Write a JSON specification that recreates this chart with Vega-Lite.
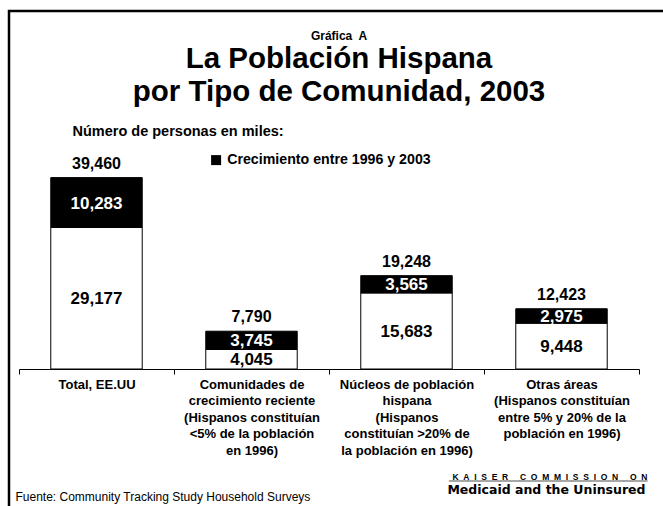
{
  "$schema": "https://vega.github.io/schema/vega-lite/v6.json",
  "width": 654,
  "height": 495,
  "autosize": {"type": "none"},
  "padding": {"left": 9, "top": 11, "right": 0, "bottom": 0},
  "background": "white",
  "config": {
    "font": "Liberation Sans",
    "view": {"stroke": "black", "strokeWidth": 2.5, "strokeDash": [654, 1149, 495, 10]}
  },
  "title": {
    "text": "Gráfica\u00a0 A",
    "subtitle": ["La Población Hispana", "por Tipo de Comunidad, 2003"],
    "anchor": "middle",
    "frame": "group",
    "dx": 3,
    "offset": -96,
    "font": "Liberation Sans",
    "fontSize": 12,
    "fontWeight": "bold",
    "color": "black",
    "subtitleFont": "Liberation Sans",
    "subtitleFontSize": 29.5,
    "subtitleFontWeight": "bold",
    "subtitleColor": "black",
    "subtitleLineHeight": 33,
    "subtitlePadding": 2
  },
  "data": {
    "values": [
      {"cat": "Total, EE.UU", "seg": "Población en 1996", "value": 29177},
      {"cat": "Total, EE.UU", "seg": "Crecimiento entre 1996 y 2003", "value": 10283},
      {"cat": "Comunidades de\ncrecimiento reciente\n(Hispanos constituían\n<5% de la población\nen 1996)", "seg": "Población en 1996", "value": 4045},
      {"cat": "Comunidades de\ncrecimiento reciente\n(Hispanos constituían\n<5% de la población\nen 1996)", "seg": "Crecimiento entre 1996 y 2003", "value": 3745},
      {"cat": "Núcleos de población\nhispana\n(Hispanos\nconstituían >20% de\nla población en 1996)", "seg": "Población en 1996", "value": 15683},
      {"cat": "Núcleos de población\nhispana\n(Hispanos\nconstituían >20% de\nla población en 1996)", "seg": "Crecimiento entre 1996 y 2003", "value": 3565},
      {"cat": "Otras áreas\n(Hispanos constituían\nentre 5% y 20% de la\npoblación en 1996)", "seg": "Población en 1996", "value": 9448},
      {"cat": "Otras áreas\n(Hispanos constituían\nentre 5% y 20% de la\npoblación en 1996)", "seg": "Crecimiento entre 1996 y 2003", "value": 2975}
    ]
  },
  "transform": [
    {"stack": "value", "groupby": ["cat"], "sort": [{"field": "seg", "order": "descending"}], "as": ["v0", "v1"]}
  ],
  "layer": [
    {
      "mark": {"type": "bar", "stroke": "black", "strokeWidth": 1, "width": {"band": 0.59}},
      "encoding": {
        "x": {
          "field": "cat", "type": "nominal", "sort": null,
          "scale": {"range": [10, 630], "paddingInner": 0, "paddingOuter": 0},
          "axis": {
            "orient": "bottom", "offset": -137,
            "labelExpr": "split(datum.label, '\\n')",
            "labelFont": "Liberation Sans", "labelFontSize": 13, "labelFontWeight": "bold", "labelColor": "black",
            "labelLineHeight": 16.6, "labelAngle": 0, "labelPadding": 4, "labelBound": false, "labelOverlap": false, "labelLimit": 0,
            "tickBand": "extent", "tickSize": 5, "tickColor": "black", "tickWidth": 1,
            "domainColor": "black", "domainWidth": 1, "grid": false,
            "title": "Fuente: Community Tracking Study Household Surveys",
            "titleFont": "Liberation Sans", "titleFontSize": 12, "titleFontWeight": "normal", "titleColor": "black",
            "titleAnchor": "start", "titleAlign": "left", "titleBaseline": "alphabetic", "titleX": 6, "titleY": 131
          }
        },
        "y": {
          "field": "v1", "type": "quantitative",
          "scale": {"domain": [0, 40000], "range": [358, 164], "nice": false},
          "axis": {
            "orient": "left", "domain": false, "ticks": false, "labels": false, "grid": false,
            "title": "Número de personas en miles:",
            "titleFont": "Liberation Sans", "titleFontSize": 14.5, "titleFontWeight": "bold", "titleColor": "black",
            "titleAngle": 0, "titleAlign": "left", "titleBaseline": "alphabetic", "titleX": 63, "titleY": 124
          }
        },
        "y2": {"field": "v0"},
        "color": {
          "field": "seg", "type": "nominal",
          "scale": {"domain": ["Población en 1996", "Crecimiento entre 1996 y 2003"], "range": ["white", "black"]},
          "legend": {
            "values": ["Crecimiento entre 1996 y 2003"], "orient": "none", "legendX": 200, "legendY": 142,
            "title": null, "padding": 0, "symbolType": "square", "symbolSize": 100, "symbolStrokeWidth": 0,
            "labelFont": "Liberation Sans", "labelFontSize": 14.2, "labelFontWeight": "bold", "labelColor": "black",
            "labelOffset": 4, "labelLimit": 0
          }
        }
      }
    },
    {
      "transform": [
        {"filter": "datum.seg === 'Crecimiento entre 1996 y 2003'"},
        {"fold": ["v0", "v1"], "as": ["k", "pos"]}
      ],
      "mark": {"type": "text", "color": "white", "fontSize": 17, "fontWeight": "bold", "baseline": "middle", "dy": 1},
      "encoding": {
        "x": {"field": "cat", "type": "nominal", "sort": null, "axis": null},
        "y": {"aggregate": "mean", "field": "pos", "type": "quantitative", "axis": null},
        "text": {"field": "value", "type": "quantitative", "format": ","}
      }
    },
    {
      "transform": [
        {"filter": "datum.seg === 'Población en 1996'"},
        {"fold": ["v0", "v1"], "as": ["k", "pos"]}
      ],
      "mark": {"type": "text", "color": "black", "fontSize": 17, "fontWeight": "bold", "baseline": "middle", "dy": 1},
      "encoding": {
        "x": {"field": "cat", "type": "nominal", "sort": null, "axis": null},
        "y": {"aggregate": "mean", "field": "pos", "type": "quantitative", "axis": null},
        "text": {"field": "value", "type": "quantitative", "format": ","}
      }
    },
    {
      "mark": {"type": "text", "color": "black", "fontSize": 16, "fontWeight": "bold", "baseline": "alphabetic", "dy": -9},
      "encoding": {
        "x": {
          "field": "cat", "type": "nominal", "sort": null,
          "axis": {
            "orient": "top", "domain": false, "ticks": false, "labels": false, "grid": false,
            "title": "Medicaid and the Uninsured",
            "titleFont": "DejaVu Sans", "titleFontSize": 12.5, "titleFontWeight": "bold", "titleColor": "black",
            "titleAlign": "right", "titleBaseline": "alphabetic", "titleX": 636, "titleY": 482
          }
        },
        "y": {
          "aggregate": "sum", "field": "value", "type": "quantitative",
          "axis": {
            "orient": "right", "domain": false, "ticks": false, "labels": false, "grid": false,
            "title": ["K\u00a0\u00a0A\u00a0\u00a0I\u00a0\u00a0S\u00a0\u00a0E\u00a0\u00a0R\u00a0\u00a0\u00a0\u00a0\u00a0C\u00a0\u00a0O\u00a0\u00a0M\u00a0\u00a0M\u00a0\u00a0I\u00a0\u00a0S\u00a0\u00a0S\u00a0\u00a0I\u00a0\u00a0O\u00a0\u00a0N\u00a0\u00a0\u00a0\u00a0\u00a0O\u00a0\u00a0N", "__________________________________________", "__________________________________________"],
            "titleFont": "Liberation Sans", "titleFontSize": 8.5, "titleFontWeight": "bold", "titleColor": "black",
            "titleLineHeight": 0.7,
            "titleAngle": 0, "titleAlign": "right", "titleBaseline": "alphabetic", "titleX": -16, "titleY": 468
          }
        },
        "text": {"aggregate": "sum", "field": "value", "type": "quantitative", "format": ","}
      }
    }
  ],
  "resolve": {"axis": {"x": "independent", "y": "independent"}}
}
